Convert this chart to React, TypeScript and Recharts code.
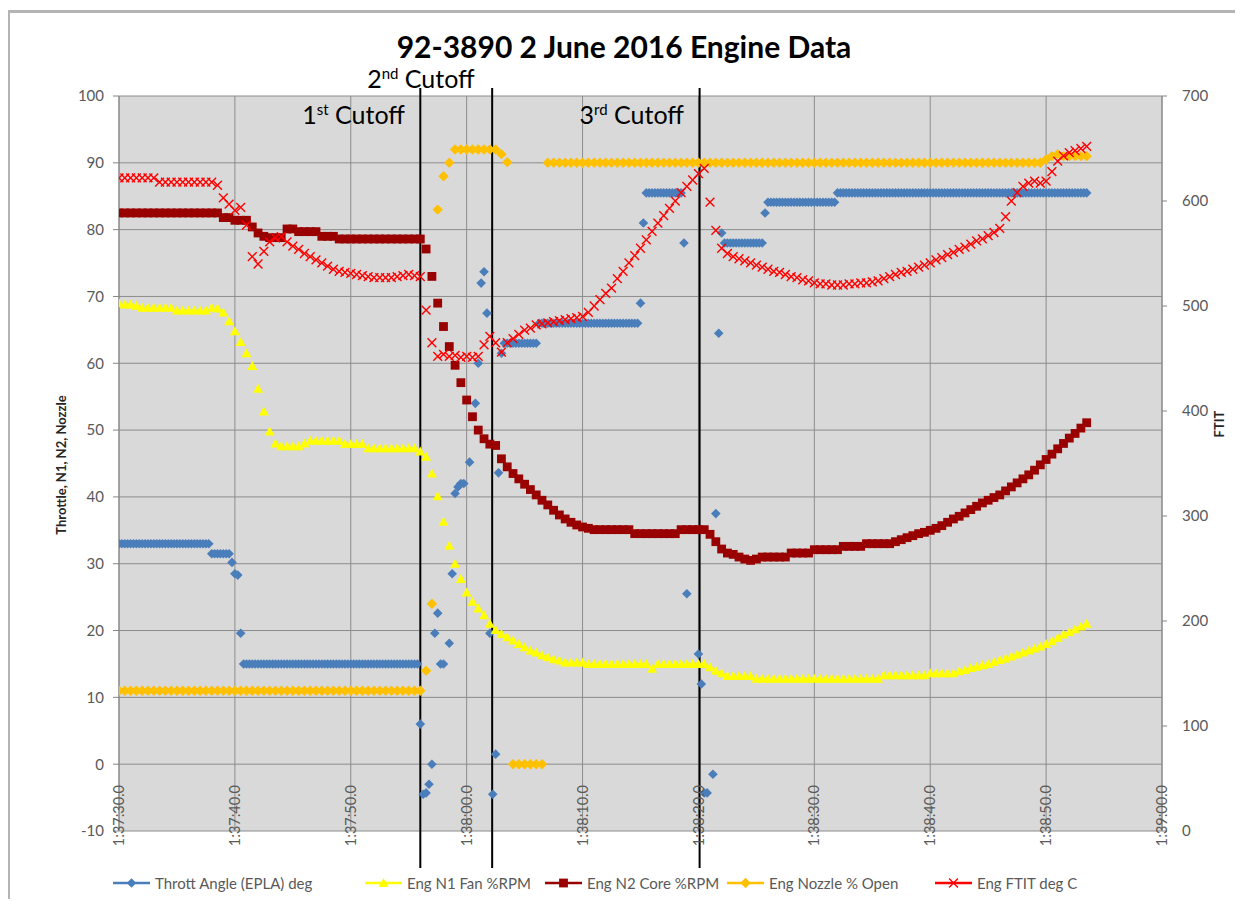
import React from 'react';
import { ScatterChart, Scatter, XAxis, YAxis, CartesianGrid, ReferenceLine } from 'recharts';

// seconds after 1:37:30.0 ; throttle is logged every 0.25 s, the engine channels every 0.5 s
const throttleStep = 0.25;
const engineStep = 0.5;

// Thrott Angle (EPLA) deg, one row = 5 s
const throttleAngle: (number | null)[] = [
  33, 33, 33, 33, 33, 33, 33, 33, 33, 33, 33, 33, 33, 33, 33, 33, 33, 33, 33, 33,
  33, 33, 33, 33, 33, 33, 33, 33, 33, 33, 33, 33, 31.5, 31.5, 31.5, 31.5, 31.5, 31.5, 31.5, 30.2,
  28.5, 28.3, 19.6, 15, 15, 15, 15, 15, 15, 15, 15, 15, 15, 15, 15, 15, 15, 15, 15, 15,
  15, 15, 15, 15, 15, 15, 15, 15, 15, 15, 15, 15, 15, 15, 15, 15, 15, 15, 15, 15,
  15, 15, 15, 15, 15, 15, 15, 15, 15, 15, 15, 15, 15, 15, 15, 15, 15, 15, 15, 15,
  15, 15, 15, 15, 6, -4.5, -4.3, -3, 0, 19.6, 22.6, 15, 15, null, 18.1, 28.5, 40.5, 41.5, 42, 42,
  null, 45.2, null, 54, 60, 72, 73.7, 67.5, 19.6, -4.5, 1.5, 43.6, 61.5, 63, 63, 63, 63, 63, 63, 63,
  63, 63, 63, 63, 63, 66, 66, 66, 66, 66, 66, 66, 66, 66, 66, 66, 66, 66, 66, 66,
  66, 66, 66, 66, 66, 66, 66, 66, 66, 66, 66, 66, 66, 66, 66, 66, 66, 66, 66, 66,
  69, 81, 85.5, 85.5, 85.5, 85.5, 85.5, 85.5, 85.5, 85.5, 85.5, 85.5, 85.5, 85.5, 85.5, 78, 25.5, null, null, null,
  16.5, 12, -4.3, -4.3, null, -1.5, 37.5, 64.5, 79.5, 78, 78, 78, 78, 78, 78, 78, 78, 78, 78, 78,
  78, 78, 78, 82.5, 84.1, 84.1, 84.1, 84.1, 84.1, 84.1, 84.1, 84.1, 84.1, 84.1, 84.1, 84.1, 84.1, 84.1, 84.1, 84.1,
  84.1, 84.1, 84.1, 84.1, 84.1, 84.1, 84.1, 84.1, 85.5, 85.5, 85.5, 85.5, 85.5, 85.5, 85.5, 85.5, 85.5, 85.5, 85.5, 85.5,
  85.5, 85.5, 85.5, 85.5, 85.5, 85.5, 85.5, 85.5, 85.5, 85.5, 85.5, 85.5, 85.5, 85.5, 85.5, 85.5, 85.5, 85.5, 85.5, 85.5,
  85.5, 85.5, 85.5, 85.5, 85.5, 85.5, 85.5, 85.5, 85.5, 85.5, 85.5, 85.5, 85.5, 85.5, 85.5, 85.5, 85.5, 85.5, 85.5, 85.5,
  85.5, 85.5, 85.5, 85.5, 85.5, 85.5, 85.5, 85.5, 85.5, 85.5, 85.5, 85.5, 85.5, 85.5, 85.5, 85.5, 85.5, 85.5, 85.5, 85.5,
  85.5, 85.5, 85.5, 85.5, 85.5, 85.5, 85.5, 85.5, 85.5, 85.5, 85.5, 85.5, 85.5, 85.5, 85.5,
];

// Eng N1 Fan %RPM, one row = 5 s
const n1Fan = [
  69, 68.8, 68.8, 68.6, 68.3, 68.3, 68.3, 68.3, 68.3, 68.3,
  67.9, 67.9, 67.9, 67.9, 67.9, 67.9, 68.3, 68.2, 67.6, 66.3,
  64.8, 63.2, 61.5, 59.6, 56.2, 52.8, 49.8, 48.0, 47.6, 47.6,
  47.6, 47.6, 48.0, 48.4, 48.4, 48.4, 48.4, 48.4, 48.4, 47.9,
  47.9, 47.9, 47.9, 47.3, 47.3, 47.3, 47.3, 47.3, 47.3, 47.3,
  47.3, 47.3, 46.8, 46.0, 43.5, 40.1, 36.3, 32.7, 30.0, 27.7,
  25.7, 24.3, 23.3, 22.3, 21.0, 20.1, 19.5, 19.0, 18.5, 18.0,
  17.5, 17.0, 16.7, 16.3, 16.0, 15.7, 15.5, 15.2, 15.2, 15.2,
  15.2, 15.0, 15.0, 15.0, 15.0, 15.0, 15.0, 15.0, 15.0, 15.0,
  15.0, 15.0, 14.3, 15.0, 15.0, 15.0, 15.0, 15.0, 15.0, 15.0,
  15.0, 15.0, 14.5, 14.0, 13.6, 13.2, 13.2, 13.2, 13.2, 13.2,
  12.8, 12.8, 12.8, 12.8, 12.8, 12.8, 12.8, 12.8, 12.8, 12.8,
  12.8, 12.8, 12.8, 12.8, 12.8, 12.8, 12.8, 12.8, 12.8, 12.8,
  12.8, 12.8, 13.3, 13.3, 13.3, 13.3, 13.3, 13.3, 13.3, 13.3,
  13.6, 13.6, 13.6, 13.6, 13.6, 13.9, 14.1, 14.4, 14.6, 14.8,
  15.0, 15.3, 15.6, 15.8, 16.1, 16.4, 16.7, 17.0, 17.3, 17.6,
  18.0, 18.4, 18.9, 19.4, 19.8, 20.2, 20.6, 21.0,
];

// Eng N2 Core %RPM, one row = 5 s
const n2Core = [
  82.5, 82.5, 82.5, 82.5, 82.5, 82.5, 82.5, 82.5, 82.5, 82.5,
  82.5, 82.5, 82.5, 82.5, 82.5, 82.5, 82.5, 82.5, 81.8, 81.8,
  81.4, 81.4, 81.4, 80.4, 79.5, 79.0, 78.8, 78.8, 78.8, 80.1,
  80.1, 79.7, 79.7, 79.7, 79.7, 79.0, 79.0, 79.0, 78.6, 78.6,
  78.6, 78.6, 78.6, 78.6, 78.6, 78.6, 78.6, 78.6, 78.6, 78.6,
  78.6, 78.6, 78.6, 77.1, 73, 69, 65.5, 62.5, 59.7, 57.1,
  54.5, 52, 50, 48.7, 47.9, 47.7, 45.7, 44.5, 43.5, 42.7,
  41.9, 41.1, 40.3, 39.5, 38.8, 38, 37.3, 36.7, 36.2, 35.8,
  35.5, 35.3, 35.1, 35.1, 35.1, 35.1, 35.1, 35.1, 35.1, 34.5,
  34.5, 34.5, 34.5, 34.5, 34.5, 34.5, 34.5, 35.1, 35.1, 35.1,
  35.1, 35.1, 34.4, 33.3, 32.2, 31.6, 31.4, 31, 30.7, 30.5,
  30.7, 31, 31, 31, 31, 31, 31.6, 31.6, 31.6, 31.6,
  32.1, 32.1, 32.1, 32.1, 32.1, 32.6, 32.6, 32.6, 32.6, 33,
  33, 33, 33, 33, 33.3, 33.6, 33.9, 34.2, 34.5, 34.7,
  35.0, 35.3, 35.7, 36.2, 36.7, 37.1, 37.6, 38.1, 38.6, 39.1,
  39.5, 39.9, 40.3, 40.9, 41.5, 42.1, 42.7, 43.3, 44.0, 44.8,
  45.6, 46.4, 47.2, 48.0, 48.8, 49.5, 50.3, 51.1,
];

// Eng Nozzle % Open, one row = 5 s
const nozzleOpen = [
  11, 11, 11, 11, 11, 11, 11, 11, 11, 11,
  11, 11, 11, 11, 11, 11, 11, 11, 11, 11,
  11, 11, 11, 11, 11, 11, 11, 11, 11, 11,
  11, 11, 11, 11, 11, 11, 11, 11, 11, 11,
  11, 11, 11, 11, 11, 11, 11, 11, 11, 11,
  11, 11, 11, 14, 24, 83, 88, 90, 92, 92,
  92, 92, 92, 92, 92, 92, 91.3, 90.1, 0, 0,
  0, 0, 0, 0, 90, 90, 90, 90, 90, 90,
  90, 90, 90, 90, 90, 90, 90, 90, 90, 90,
  90, 90, 90, 90, 90, 90, 90, 90, 90, 90,
  90, 90, 90, 90, 90, 90, 90, 90, 90, 90,
  90, 90, 90, 90, 90, 90, 90, 90, 90, 90,
  90, 90, 90, 90, 90, 90, 90, 90, 90, 90,
  90, 90, 90, 90, 90, 90, 90, 90, 90, 90,
  90, 90, 90, 90, 90, 90, 90, 90, 90, 90,
  90, 90, 90, 90, 90, 90, 90, 90, 90, 90,
  90.5, 91, 91.3, 91, 91, 91, 91, 91,
];

// Eng FTIT deg C (right axis), one row = 5 s
const ftit = [
  622, 622, 622, 622, 622, 622, 622, 618, 618, 618,
  618, 618, 618, 618, 618, 618, 618, 615, 603, 597,
  591, 594, 577, 547, 540, 552, 561, 565, 566, 561,
  557, 554, 550, 547, 544, 541, 538, 535, 533, 532,
  531, 530, 529, 528, 527, 527, 527, 527, 528, 529,
  530, 529, 528, 496, 465, 452, 454, 452, 453, 451,
  452, 451, 452, 463, 471, 465, 456, 465, 469, 473,
  477, 479, 482, 483, 484, 485, 486, 487, 488, 489,
  490, 494, 500, 506, 512, 517, 526, 533, 541, 548,
  555, 563, 571, 579, 586, 593, 600, 608, 614, 620,
  626, 631, 599, 572, 555, 550, 547, 545, 543, 541,
  539, 537, 535, 533, 532, 530, 528, 527, 525, 524,
  522, 521, 521, 520, 520, 520, 521, 521, 522, 522,
  523, 524, 526, 528, 530, 532, 533, 535, 537, 539,
  541, 544, 546, 549, 551, 554, 556, 559, 562, 564,
  567, 570, 574, 585, 600, 608, 614, 617, 619, 617,
  619, 628, 638, 643, 646, 648, 650, 652,
];

const xTicks = [0, 10, 20, 30, 40, 50, 60, 70, 80, 90];
const xTickLabels = ['1:37:30.0', '1:37:40.0', '1:37:50.0', '1:38:00.0', '1:38:10.0', '1:38:20.0', '1:38:30.0', '1:38:40.0', '1:38:50.0', '1:39:00.0'];
const leftTicks = [-10, 0, 10, 20, 30, 40, 50, 60, 70, 80, 90, 100];
const rightTicks = [0, 100, 200, 300, 400, 500, 600, 700];

const cutoffTimes = [26.0, 32.2, 50.1];
const cutoffNames = [['1', 'st'], ['2', 'nd'], ['3', 'rd']];

const FONT = 'Lato, "Open Sans", sans-serif';
const W = 1227;
const H = 891;

const toPoints = (vals: (number | null)[], step: number) =>
  vals.flatMap((v, i) => (v == null ? [] : [{ t: i * step, v }]));

const diamond = (fill: string, r: number) => (p: any) => {
  const { cx, cy } = p;
  if (cx == null || cy == null) return <g />;
  return <path d={`M${cx} ${cy - r}L${cx + r} ${cy}L${cx} ${cy + r}L${cx - r} ${cy}Z`} fill={fill} />;
};
const triangle = (fill: string, r: number) => (p: any) => {
  const { cx, cy } = p;
  if (cx == null || cy == null) return <g />;
  return <path d={`M${cx} ${cy - r}L${cx + r} ${cy + r * 0.8}L${cx - r} ${cy + r * 0.8}Z`} fill={fill} />;
};
const square = (fill: string, r: number) => (p: any) => {
  const { cx, cy } = p;
  if (cx == null || cy == null) return <g />;
  return <rect x={cx - r} y={cy - r} width={r * 2} height={r * 2} fill={fill} />;
};
const xMark = (stroke: string, r: number) => (p: any) => {
  const { cx, cy } = p;
  if (cx == null || cy == null) return <g />;
  return <path d={`M${cx - r} ${cy - r}L${cx + r} ${cy + r}M${cx + r} ${cy - r}L${cx - r} ${cy + r}`} stroke={stroke} strokeWidth={1.4} fill="none" />;
};

const series = [
  { name: 'Thrott Angle (EPLA) deg', color: '#4a7ebb', shape: diamond('#4a7ebb', 4.8), data: toPoints(throttleAngle, throttleStep), axis: 'left', legendLeft: 105 },
  { name: 'Eng N1 Fan %RPM', color: '#ffff00', shape: triangle('#ffff00', 5), data: toPoints(n1Fan, engineStep), axis: 'left', legendLeft: 357 },
  { name: 'Eng N2 Core %RPM', color: '#990000', shape: square('#990000', 4.4), data: toPoints(n2Core, engineStep), axis: 'left', legendLeft: 537 },
  { name: 'Eng Nozzle % Open', color: '#ffc000', shape: diamond('#ffc000', 5.2), data: toPoints(nozzleOpen, engineStep), axis: 'left', legendLeft: 719 },
  { name: 'Eng FTIT deg C', color: '#ff0000', shape: xMark('#ff0000', 4.4), data: toPoints(ftit, engineStep), axis: 'right', legendLeft: 927 },
];

// label offsets for the three cutoff marks (px from the line / plot top)
const cutoffLabelDx = [-118, -125, -120];
const cutoffLabelDy = [28, -8, 28];

const cutoffShape = (idx: number) => (p: any) => {
  const x = p.x1;
  const top = Math.min(p.y1, p.y2);
  const bottom = Math.max(p.y1, p.y2);
  const [num, sup] = cutoffNames[idx];
  return (
    <g>
      <line x1={x} x2={x} y1={top - 8} y2={bottom + 37} stroke="#000" strokeWidth={2} />
      <text x={x + cutoffLabelDx[idx]} y={top + cutoffLabelDy[idx]} fontFamily={FONT} fontSize={25} fill="#000">
        {num}
        <tspan fontSize={15} dy={-9}>{sup}</tspan>
        <tspan dy={9}> Cutoff</tspan>
      </text>
    </g>
  );
};

const XTick = (p: any) => {
  const { x, y, payload } = p;
  const ly = y - 46;
  const idx = xTicks.indexOf(payload.value);
  return (
    <text x={x} y={ly} transform={`rotate(-90 ${x} ${ly})`} textAnchor="end" dy="0.35em"
      fontFamily={FONT} fontSize={14.5} fill="#595959">
      {xTickLabels[idx]}
    </text>
  );
};

const LegendIcon = ({ idx }: { idx: number }) => {
  const s = series[idx];
  return (
    <svg width={37} height={14} style={{ display: 'block' }}>
      <line x1={0} x2={37} y1={7} y2={7} stroke={s.color} strokeWidth={2.5} />
      {s.shape({ cx: 18.5, cy: 7 })}
    </svg>
  );
};

const App = () => {
  return (
    <div style={{ position: 'relative', width: W, height: H, background: '#fff', fontFamily: FONT, overflow: 'hidden' }}>
      <div style={{ position: 'absolute', left: 0, top: 2, width: W, height: 3, background: '#b4b4b4' }} />
      <div style={{ position: 'absolute', left: 0, top: 2, width: 2, height: H, background: '#b4b4b4' }} />
      <ScatterChart width={W} height={H} margin={{ top: 88, right: 13, bottom: 48, left: 51 }}>
        <CartesianGrid yAxisId="left" fill="#d9d9d9" fillOpacity={1} stroke="#8c8c8c" strokeWidth={1} />
        <XAxis type="number" dataKey="t" domain={[0, 90]} ticks={xTicks} interval={0} allowDataOverflow
          axisLine={false} tickLine={false} tickSize={0} tickMargin={0} height={20} tick={<XTick />} />
        <YAxis yAxisId="left" type="number" dataKey="v" domain={[-10, 100]} ticks={leftTicks} interval={0}
          allowDataOverflow width={60} axisLine={{ stroke: '#868686' }} tickLine={{ stroke: '#868686' }}
          tickSize={6} tickMargin={9} tick={{ fill: '#595959', fontSize: 15, fontFamily: FONT }} />
        <YAxis yAxisId="right" orientation="right" type="number" dataKey="v" domain={[0, 700]} ticks={rightTicks}
          interval={0} allowDataOverflow width={60} axisLine={{ stroke: '#868686' }} tickLine={{ stroke: '#868686' }}
          tickSize={5} tickMargin={15} tick={{ fill: '#595959', fontSize: 15, fontFamily: FONT }} />
        {series.map((s) => (
          <Scatter key={s.name} name={s.name} data={s.data} dataKey="v" yAxisId={s.axis}
            shape={s.shape} isAnimationActive={false} />
        ))}
        {cutoffTimes.map((t, i) => (
          <ReferenceLine key={t} x={t} yAxisId="left" stroke="#000" shape={cutoffShape(i)} />
        ))}
      </ScatterChart>

      <div style={{ position: 'absolute', left: 0, top: 25, width: 1232, textAlign: 'center', fontSize: 30, fontWeight: 700, color: '#000', lineHeight: '26px' }}>
        92-3890 2 June 2016 Engine Data
      </div>
      <div style={{ position: 'absolute', left: 53, top: 457, transform: 'translate(-50%, -50%) rotate(-90deg)', whiteSpace: 'nowrap', fontSize: 13, fontWeight: 700, color: '#262626' }}>
        Throttle, N1, N2, Nozzle
      </div>
      <div style={{ position: 'absolute', left: 1211, top: 416, transform: 'translate(-50%, -50%) rotate(-90deg)', whiteSpace: 'nowrap', fontSize: 13, fontWeight: 700, color: '#262626' }}>
        FTIT
      </div>
      {series.map((s, i) => (
        <div key={s.name} style={{ position: 'absolute', left: s.legendLeft, top: 866, display: 'flex', alignItems: 'center', gap: 5, whiteSpace: 'nowrap', fontSize: 15, color: '#595959' }}>
          <LegendIcon idx={i} />
          <span>{s.name}</span>
        </div>
      ))}
    </div>
  );
};

export default App;
